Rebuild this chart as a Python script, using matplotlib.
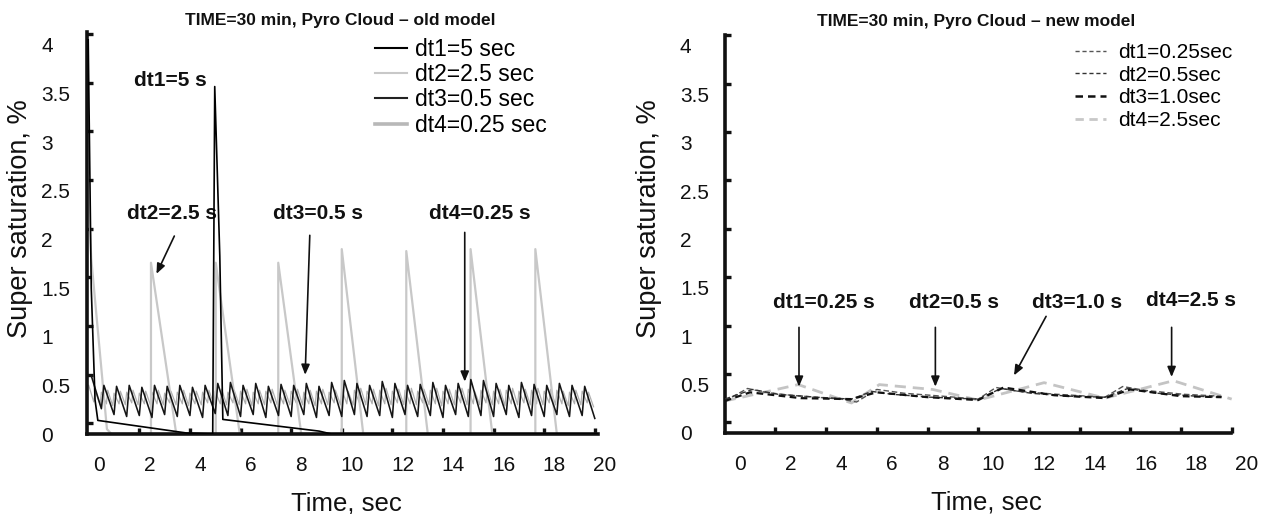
import numpy as np
import matplotlib
matplotlib.use("Agg")
import matplotlib.pyplot as plt
from matplotlib.lines import Line2D

plt.rcParams['font.family'] = ['Liberation Sans', 'DejaVu Sans']

# ---------------- data: left panel (old model) ----------------
y_ticks = [0, 0.5, 1, 1.5, 2, 2.5, 3, 3.5, 4]
y_ticklabels = ['0', '0.5', '1', '1.5', '2', '2.5', '3', '3.5', '4']
x_ticks = [0, 2, 4, 6, 8, 10, 12, 14, 16, 18, 20]

old_labels = ['dt1=5 sec', 'dt2=2.5 sec', 'dt3=0.5 sec', 'dt4=0.25 sec']

dt1_t = [-0.42, -0.30, -0.15, -0.04, 3.48, 4.50, 4.58, 4.78, 4.90, 8.70, 9.20, 19.70]
dt1_v = [4.05, 1.50, 0.35, 0.14, 0.01, 0.00, 3.57, 1.83, 0.15, 0.03, 0.00, 0.00]

dt2_t = [-0.45, -0.30, 0.32, 0.50, 2.06, 2.06, 3.06, 4.62, 4.62, 5.57,
         7.09, 7.09, 8.00, 9.60, 9.60, 10.45, 12.15, 12.15, 13.00,
         14.69, 14.69, 15.55, 17.25, 17.25, 18.10, 19.70]
dt2_v = [2.70, 1.80, 0.05, 0.00, 0.00, 1.76, 0.00, 0.00, 1.76, 0.00,
         0.00, 1.76, 0.00, 0.00, 1.90, 0.00, 0.00, 1.88, 0.00,
         0.00, 1.90, 0.00, 0.00, 1.90, 0.00, 0.00]

# dt3 = 0.5 s sawtooth: peak / trough of each step
dt3_step = 0.5
dt3_start = -0.30
dt3_peak = [0.60, 0.50, 0.49, 0.50, 0.48, 0.50, 0.49, 0.50, 0.48, 0.50,
            0.52, 0.53, 0.50, 0.52, 0.49, 0.51, 0.50, 0.52, 0.49, 0.53,
            0.55, 0.52, 0.50, 0.54, 0.52, 0.50, 0.51, 0.53, 0.50, 0.52,
            0.56, 0.55, 0.52, 0.50, 0.53, 0.51, 0.50, 0.52, 0.50, 0.49]
dt3_trough = [0.26, 0.20, 0.18, 0.19, 0.17, 0.20, 0.18, 0.19, 0.17, 0.21,
              0.19, 0.18, 0.20, 0.17, 0.19, 0.18, 0.20, 0.17, 0.19, 0.18,
              0.20, 0.18, 0.19, 0.17, 0.20, 0.18, 0.19, 0.17, 0.20, 0.18,
              0.19, 0.18, 0.20, 0.17, 0.19, 0.18, 0.20, 0.18, 0.19, 0.16]

# dt4 = 0.25 s sawtooth
dt4_step = 0.25
dt4_start = -0.40
dt4_peak = [0.50, 0.44, 0.43, 0.45, 0.42, 0.44, 0.43, 0.45, 0.42, 0.44,
            0.43, 0.45, 0.42, 0.44, 0.43, 0.45, 0.42, 0.44, 0.43, 0.45,
            0.44, 0.46, 0.43, 0.45, 0.44, 0.46, 0.43, 0.45, 0.44, 0.46,
            0.43, 0.45, 0.44, 0.46, 0.43, 0.45, 0.44, 0.46, 0.43, 0.45,
            0.46, 0.44, 0.45, 0.47, 0.44, 0.46, 0.45, 0.47, 0.44, 0.46,
            0.45, 0.47, 0.44, 0.46, 0.45, 0.47, 0.44, 0.46, 0.45, 0.47,
            0.46, 0.44, 0.45, 0.47, 0.44, 0.46, 0.45, 0.47, 0.44, 0.46,
            0.45, 0.47, 0.44, 0.46, 0.45, 0.44, 0.43, 0.45, 0.44, 0.43]
dt4_trough = [0.33, 0.30, 0.31, 0.29, 0.31, 0.30, 0.32, 0.30, 0.31, 0.29,
              0.31, 0.30, 0.32, 0.30, 0.31, 0.29, 0.31, 0.30, 0.32, 0.30,
              0.31, 0.30, 0.32, 0.30, 0.31, 0.29, 0.31, 0.30, 0.32, 0.30,
              0.31, 0.30, 0.32, 0.30, 0.31, 0.29, 0.31, 0.30, 0.32, 0.30,
              0.31, 0.30, 0.32, 0.30, 0.31, 0.29, 0.31, 0.30, 0.32, 0.30,
              0.31, 0.30, 0.32, 0.30, 0.31, 0.29, 0.31, 0.30, 0.32, 0.30,
              0.31, 0.30, 0.32, 0.30, 0.31, 0.29, 0.31, 0.30, 0.32, 0.30,
              0.31, 0.30, 0.32, 0.30, 0.31, 0.29, 0.31, 0.30, 0.32, 0.28]

old_notes = ['dt1=5 s', 'dt2=2.5 s', 'dt3=0.5 s', 'dt4=0.25 s']

# ---------------- data: right panel (new model) ----------------
new_labels = ['dt1=0.25sec', 'dt2=0.5sec', 'dt3=1.0sec', 'dt4=2.5sec']

n1_t = [-0.60, 0.30, 1.00, 2.00, 3.00, 4.00, 4.60, 5.40, 6.50, 8.00, 9.40,
        10.10, 11.00, 12.50, 14.40, 15.10, 16.00, 17.50, 19.00]
n1_v = [0.33, 0.46, 0.42, 0.39, 0.37, 0.35, 0.32, 0.45, 0.41, 0.38, 0.35,
        0.47, 0.43, 0.40, 0.37, 0.48, 0.44, 0.40, 0.38]

n2_t = [-0.60, 0.50, 1.50, 3.00, 4.40, 5.20, 6.00, 7.50, 9.40, 10.30, 11.50,
        13.00, 14.40, 15.30, 16.50, 18.00, 19.00]
n2_v = [0.35, 0.45, 0.40, 0.37, 0.35, 0.43, 0.40, 0.37, 0.35, 0.46, 0.41,
        0.38, 0.37, 0.46, 0.41, 0.38, 0.37]

n3_t = [-0.60, 0.40, 2.40, 4.40, 5.40, 7.40, 9.40, 10.40, 12.40, 14.40,
        15.40, 17.40, 19.00]
n3_v = [0.33, 0.42, 0.36, 0.35, 0.42, 0.37, 0.34, 0.47, 0.39, 0.36,
        0.45, 0.38, 0.37]

n4_t = [-0.60, 2.30, 4.40, 5.50, 7.60, 9.40, 12.00, 14.40, 17.10, 19.40]
n4_v = [0.33, 0.50, 0.31, 0.50, 0.45, 0.34, 0.52, 0.36, 0.54, 0.35]

new_notes = ['dt1=0.25 s', 'dt2=0.5 s', 'dt3=1.0 s', 'dt4=2.5 s']


def sawtooth(start, step, peaks, troughs, fall):
    t, v = [], []
    for k, (p, q) in enumerate(zip(peaks, troughs)):
        t0 = start + k * step
        t += [t0, t0 + fall * step]
        v += [p, q]
    return t, v


fig = plt.figure(figsize=(12.73, 5.14), dpi=100)
axL = fig.add_axes([0.0683, 0.1556, 0.4069, 0.782])
axR = fig.add_axes([0.5695, 0.1576, 0.4100, 0.774])


def style(ax, xmin, xend, ytop, xoff, ylpad, lab_xy):
    ax.set_xlim(xmin, 20)
    ax.set_ylim(0, ytop)
    for s in ['top', 'right']:
        ax.spines[s].set_visible(False)
    for s in ['left', 'bottom']:
        ax.spines[s].set_linewidth(2.6)
        ax.spines[s].set_color('#111111')
    ax.spines['bottom'].set_bounds(xmin, xend)
    ax.set_xticks(x_ticks)
    ax.set_yticks(y_ticks)
    ax.set_yticklabels(y_ticklabels)
    # labels without marks; the marks sit slightly off the labels as in the source
    ax.tick_params(which='major', length=0, labelsize=15, colors='#111111')
    ax.tick_params(axis='x', which='major', pad=15.5)
    ax.tick_params(axis='y', which='major', pad=ylpad)
    for lbl in ax.get_yticklabels():
        lbl.set_horizontalalignment('left')
    ax.set_xticks([t + xoff for t in x_ticks[1:]], minor=True)
    ax.set_yticks([v + 0.11 for v in y_ticks], minor=True)
    ax.tick_params(which='minor', direction='in', length=4, width=2.4,
                   color='#111111', labelbottom=False, labelleft=False)
    ax.set_xlabel('Time, sec', fontsize=18.5, labelpad=12, color='#111111')
    ax.set_ylabel('Super saturation, %', fontsize=19.5, color='#111111')
    ax.yaxis.set_label_coords(*lab_xy)


# ---------------- left panel ----------------
style(axL, -0.47, 19.72, 4.13, -0.4, 33, (-0.104, 0.536))
t4, v4 = sawtooth(dt4_start, dt4_step, dt4_peak, dt4_trough, 0.8)
axL.plot(t4, v4, color='#b0b0b0', lw=0.9, zorder=2)
t3, v3 = sawtooth(dt3_start, dt3_step, dt3_peak, dt3_trough, 0.8)
axL.plot(t3, v3, color='#151515', lw=1.15, zorder=3)
axL.plot(dt2_t, dt2_v, color='#c8c8c8', lw=1.6, zorder=2)
axL.plot(dt1_t, dt1_v, color='#000000', lw=1.2, zorder=4)

hL = [Line2D([], [], color='#000000', lw=1.5),
      Line2D([], [], color='#c8c8c8', lw=1.5),
      Line2D([], [], color='#222222', lw=1.5),
      Line2D([], [], color='#b8b8b8', lw=2.6)]
axL.legend(hL, old_labels, loc='upper left', bbox_to_anchor=(10.9, 4.07),
           bbox_transform=axL.transData, frameon=False, fontsize=16.5,
           handlelength=1.4, handletextpad=0.35, labelspacing=0.1,
           borderpad=0, borderaxespad=0)

note_kw = dict(fontsize=15, fontweight='bold', ha='center', va='center', color='#111111')
axL.text(2.84, 3.63, old_notes[0], **note_kw)
axL.text(2.90, 2.27, old_notes[1], **note_kw)
axL.text(8.66, 2.27, old_notes[2], **note_kw)
axL.text(15.06, 2.27, old_notes[3], **note_kw)
arr = dict(arrowstyle='-|>,head_length=0.6,head_width=0.25', color='#111111', lw=1.2)
axL.annotate('', xy=(2.23, 1.62), xytext=(3.03, 2.06), arrowprops=arr)
axL.annotate('', xy=(8.15, 0.58), xytext=(8.34, 2.07), arrowprops=arr)
axL.annotate('', xy=(14.46, 0.51), xytext=(14.46, 2.10), arrowprops=arr)
axL.set_title('TIME=30 min, Pyro Cloud \u2013 old model', fontsize=12.5,
              fontweight='bold', color='#111111', x=(9.55 + 0.47) / 20.47, y=1.0, pad=5)

# ---------------- right panel ----------------
style(axR, -0.59, 19.37, 4.10, -0.6, 32.4, (-0.12, 0.54))
axR.plot(n4_t, n4_v, color='#c4c4c4', lw=2.0, ls=(0, (4, 2.5)), zorder=2)
axR.plot(n1_t, n1_v, color='#555555', lw=1.0, ls=(0, (4, 2)), zorder=3)
axR.plot(n2_t, n2_v, color='#333333', lw=1.0, ls=(0, (4, 2)), zorder=3)
axR.plot(n3_t, n3_v, color='#111111', lw=1.6, ls=(0, (3, 2)), zorder=4)

hR = [Line2D([], [], color='#555555', lw=1.0, ls=(0, (3, 2))),
      Line2D([], [], color='#333333', lw=1.0, ls=(0, (3, 2))),
      Line2D([], [], color='#111111', lw=1.8, ls=(0, (3, 2))),
      Line2D([], [], color='#c8c8c8', lw=2.0, ls=(0, (3, 2)))]
axR.legend(hR, new_labels, loc='upper left', bbox_to_anchor=(13.2, 4.03),
           bbox_transform=axR.transData, frameon=False, fontsize=15,
           handlelength=1.5, handletextpad=0.6, labelspacing=0.18,
           borderpad=0, borderaxespad=0)

axR.text(3.30, 1.35, new_notes[0], **note_kw)
axR.text(8.43, 1.35, new_notes[1], **note_kw)
axR.text(13.30, 1.35, new_notes[2], **note_kw)
axR.text(17.80, 1.37, new_notes[3], **note_kw)
axR.annotate('', xy=(2.33, 0.45), xytext=(2.33, 1.12), arrowprops=arr)
axR.annotate('', xy=(7.71, 0.45), xytext=(7.71, 1.12), arrowprops=arr)
axR.annotate('', xy=(10.76, 0.57), xytext=(12.13, 1.23), arrowprops=arr)
axR.annotate('', xy=(17.03, 0.55), xytext=(17.03, 1.12), arrowprops=arr)
axR.set_title('TIME=30 min, Pyro Cloud \u2013 new model', fontsize=12.5,
              fontweight='bold', color='#111111', x=(9.3 + 0.59) / 20.59, y=1.0, pad=6.5)

fig.savefig('out.png', dpi=100, facecolor='white')
